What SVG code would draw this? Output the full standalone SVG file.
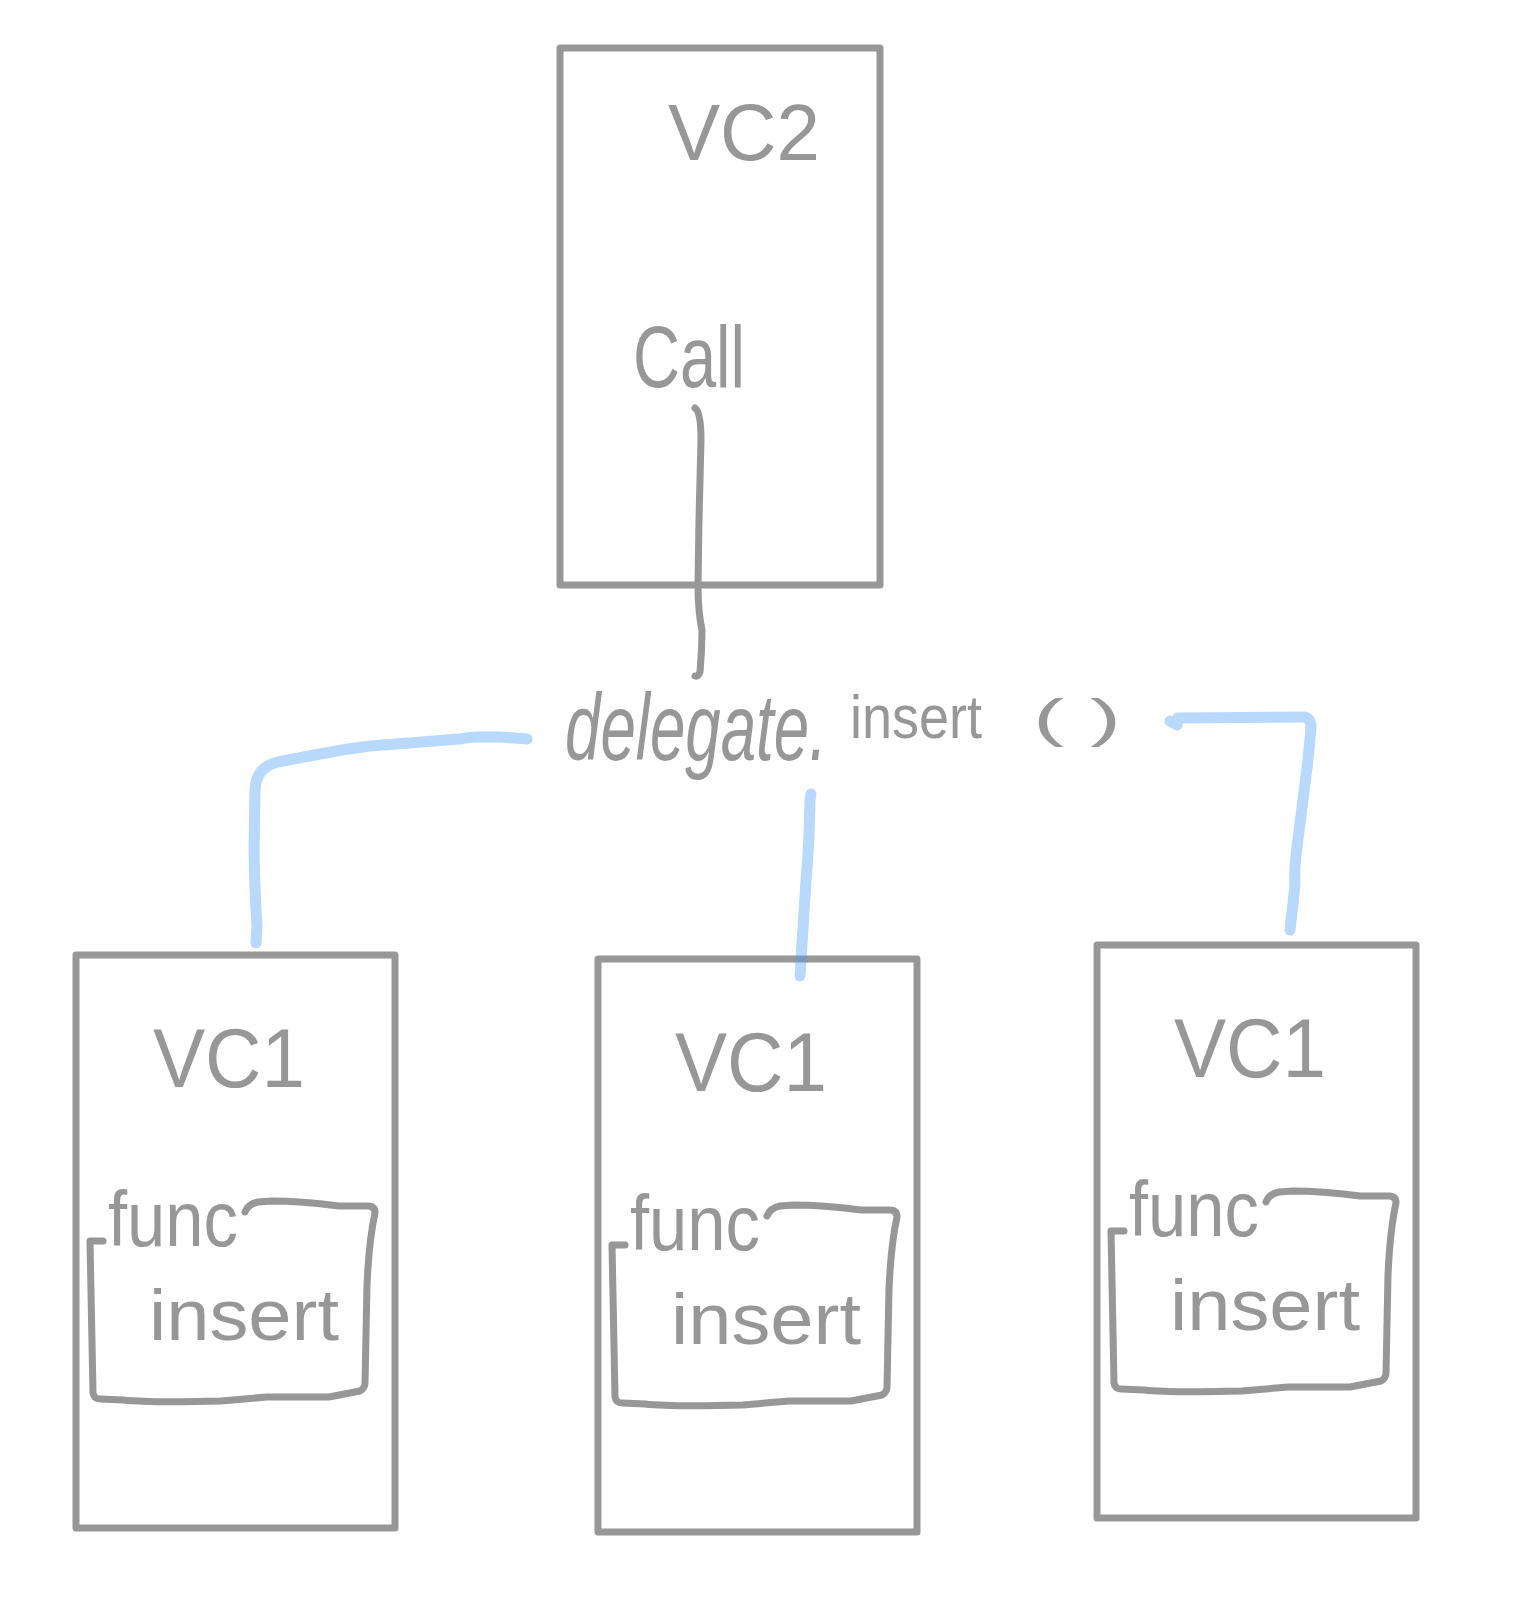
<svg xmlns="http://www.w3.org/2000/svg" width="1519" height="1614" viewBox="0 0 1519 1614">
  <style>
    .box { fill: none; stroke: #979797; stroke-width: 7; stroke-linejoin: round; }
    .ink { fill: none; stroke: #979797; stroke-width: 7; stroke-linecap: round; stroke-linejoin: round; }
    .hand { font-family: "Liberation Sans", "DejaVu Sans", sans-serif; fill: #979797; }
    .wire { fill: none; stroke: #4D9DF7; stroke-opacity: 0.4; stroke-width: 11; stroke-linecap: round; stroke-linejoin: round; }
  </style>
  <rect x="0" y="0" width="1519" height="1614" fill="#ffffff"/>

  <g id="vc2">
    <rect class="box" x="560" y="48" width="320" height="537"/>
    <text class="hand" x="668" y="160" font-size="80" textLength="152" lengthAdjust="spacingAndGlyphs">VC2</text>
    <text class="hand" x="633" y="387" font-size="88" textLength="112" lengthAdjust="spacingAndGlyphs">Call</text>
  </g>

  <g id="vc1-left" transform="translate(0,0)">
    <rect class="box" x="76" y="955" width="319" height="573"/>
    <text class="hand" x="153" y="1087" font-size="84" textLength="152" lengthAdjust="spacingAndGlyphs">VC1</text>
    <text class="hand" x="108" y="1246" font-size="78" textLength="130" lengthAdjust="spacingAndGlyphs">func</text>
    <text class="hand" x="149" y="1340" font-size="72" textLength="190" lengthAdjust="spacingAndGlyphs">insert</text>
    <path class="ink" d="M103,1241 L90,1241 L93,1393 Q94,1399 100,1399 L123,1400 Q150,1403 221,1401 L267,1397 L329,1397 L360,1391 Q365,1388 365,1383 L367,1285 Q369,1240 375,1213 Q375,1206 368,1206 L339,1206 Q300,1201 272,1201 L258,1202 Q248,1204 245,1212"/>
  </g>

  <g id="vc1-middle" transform="translate(522,4)">
    <rect class="box" x="76" y="955" width="319" height="573"/>
    <text class="hand" x="153" y="1087" font-size="84" textLength="152" lengthAdjust="spacingAndGlyphs">VC1</text>
    <text class="hand" x="108" y="1246" font-size="78" textLength="130" lengthAdjust="spacingAndGlyphs">func</text>
    <text class="hand" x="149" y="1340" font-size="72" textLength="190" lengthAdjust="spacingAndGlyphs">insert</text>
    <path class="ink" d="M103,1241 L90,1241 L93,1393 Q94,1399 100,1399 L123,1400 Q150,1403 221,1401 L267,1397 L329,1397 L360,1391 Q365,1388 365,1383 L367,1285 Q369,1240 375,1213 Q375,1206 368,1206 L339,1206 Q300,1201 272,1201 L258,1202 Q248,1204 245,1212"/>
  </g>

  <g id="vc1-right" transform="translate(1021,-10)">
    <rect class="box" x="76" y="955" width="319" height="573"/>
    <text class="hand" x="153" y="1087" font-size="84" textLength="152" lengthAdjust="spacingAndGlyphs">VC1</text>
    <text class="hand" x="108" y="1246" font-size="78" textLength="130" lengthAdjust="spacingAndGlyphs">func</text>
    <text class="hand" x="149" y="1340" font-size="72" textLength="190" lengthAdjust="spacingAndGlyphs">insert</text>
    <path class="ink" d="M103,1241 L90,1241 L93,1393 Q94,1399 100,1399 L123,1400 Q150,1403 221,1401 L267,1397 L329,1397 L360,1391 Q365,1388 365,1383 L367,1285 Q369,1240 375,1213 Q375,1206 368,1206 L339,1206 Q300,1201 272,1201 L258,1202 Q248,1204 245,1212"/>
  </g>

  <g id="label-delegate">
    <text class="hand" transform="translate(565,760) scale(0.67,1)" x="0" y="0" font-size="95" font-style="italic">delegate.</text>
    <text class="hand" x="850" y="738" font-size="62" textLength="132" lengthAdjust="spacingAndGlyphs">insert</text>
    <text class="hand" x="1033" y="736" font-size="52" textLength="88" lengthAdjust="spacingAndGlyphs">( )</text>
  </g>

  <g id="connectors">
    <path class="ink" d="M695,408 Q701,412 701,440 L699,520 L698,585 Q698,612 702,630 Q702,650 700,672 Q698,677 695,676"/>
    <path class="wire" d="M527,739 L500,737 L477,737 Q470,737 460,739 L370,746 Q345,749 320,754 L278,762 Q256,767 255,790 L254,850 Q255,900 257,925 L256,943"/>
    <path class="wire" d="M811,794 L810,800 Q809,850 806,880 L800,976"/>
    <path class="wire" d="M1170,721 L1177,725 L1178,718 L1303,717 Q1311,717 1311,728 L1308,760 L1297,847 Q1294,870 1295,885 L1290,930"/>
  </g>
</svg>
